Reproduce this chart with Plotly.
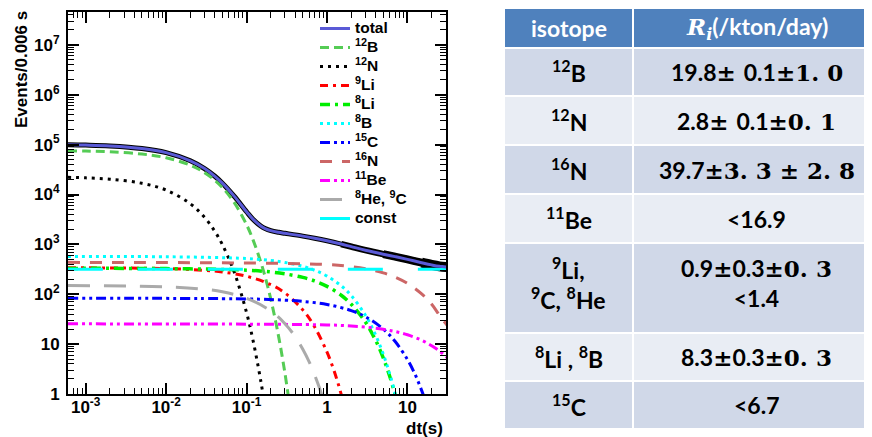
import plotly.graph_objects as go

# ---------------- data ----------------
t_total = [6e-4, 1e-3, 2e-3, 5e-3, 0.01, 0.02, 0.03, 0.04, 0.05, 0.07, 0.1, 0.12, 0.15, 0.17, 0.2, 0.25,
           0.3, 0.5, 0.7, 1, 1.5, 2, 3, 5, 7, 10, 15, 20, 25, 31]
y_total = [99800, 98250, 94450, 83840, 69120, 47430, 33150, 23460, 16900, 9290, 4515, 3206, 2340, 2081, 1887, 1745,
           1668, 1466, 1329, 1182, 1015, 902, 765, 636, 568, 501, 430, 388, 363, 349]

t_12B = [6e-4, 1e-3, 2e-3, 5e-3, 0.01, 0.02, 0.03, 0.04, 0.05, 0.07, 0.1, 0.12, 0.15, 0.17, 0.2, 0.25, 0.3, 0.35]
y_12B = [75400, 74400, 71900, 64800, 54600, 38700, 27500, 19470, 13800, 6950, 2480, 1245, 444, 224, 80, 14.3, 2.6, 0.46]

t_12N = [6e-4, 1e-3, 2e-3, 5e-3, 0.01, 0.02, 0.03, 0.04, 0.05, 0.07, 0.1, 0.12, 0.15, 0.17]
y_12N = [22150, 21600, 20300, 16800, 12300, 6540, 3490, 1860, 991, 282, 42.7, 12.1, 1.84, 0.52]

t_9Li = [6e-4, 0.01, 0.03, 0.05, 0.1, 0.2, 0.3, 0.5, 0.7, 1.0, 1.2, 1.4, 1.6]
y_9Li = [339, 327, 302, 280, 230, 156, 106, 48.6, 22.3, 6.9, 3.2, 1.46, 0.67]

t_8Li = [6e-4, 0.01, 0.1, 0.2, 0.3, 0.5, 0.7, 1, 1.5, 2, 3, 4, 5, 6, 7, 7.5]
y_8Li = [330, 327, 304, 280, 257, 218, 185, 144, 95.5, 63, 27.7, 12.1, 5.3, 2.3, 1.0, 0.67]

t_8B = [6e-4, 0.01, 0.1, 0.2, 0.3, 0.5, 0.7, 1, 1.5, 2, 3, 4, 5, 6, 7, 7.5]
y_8B = [570, 565, 521, 476, 435, 363, 303, 231, 148, 94, 38, 15.5, 6.3, 2.56, 1.04, 0.66]

t_15C = [6e-4, 0.1, 0.3, 0.5, 1, 2, 3, 5, 7, 10, 12, 14, 16, 17]
y_15C = [83, 80.7, 76.2, 72, 62.5, 47.1, 35.5, 20.1, 11.4, 4.9, 2.8, 1.57, 0.89, 0.67]

t_16N = [6e-4, 1, 2, 3, 5, 7, 10, 15, 20, 25, 31]
y_16N = [436, 396, 359, 326, 268, 221, 165, 102, 63, 38, 24]

t_11Be = [6e-4, 1, 2, 3, 5, 7, 10, 15, 20, 25, 31]
y_11Be = [25.5, 24.3, 23.1, 21.9, 19.8, 17.9, 15.4, 12, 9.3, 7.3, 5.4]

t_8He9C = [6e-4, 0.01, 0.03, 0.05, 0.1, 0.2, 0.3, 0.4, 0.5, 0.6, 0.7, 0.8, 0.9]
y_8He9C = [149.5, 141, 126, 112, 83, 46.3, 25.7, 14.3, 7.9, 4.4, 2.44, 1.36, 0.75]

t_const = [6e-4, 31]
y_const = [316, 316]

x_tickvals = [1e-3, 1e-2, 1e-1, 1, 10]
x_ticktext = ["10<sup>-3</sup>", "10<sup>-2</sup>", "10<sup>-1</sup>", "1", "10"]
y_tickvals = [1, 10, 1e2, 1e3, 1e4, 1e5, 1e6, 1e7]
y_ticktext = ["1", "10", "10<sup>2</sup>", "10<sup>3</sup>", "10<sup>4</sup>",
              "10<sup>5</sup>", "10<sup>6</sup>", "10<sup>7</sup>"]

table_header = ["isotope", "(/kton/day)"]
table_isotopes = ["<sup>12</sup>B", "<sup>12</sup>N", "<sup>16</sup>N", "<sup>11</sup>Be",
                  "<sup>9</sup>Li,<br><sup>9</sup>C, <sup>8</sup>He", "<sup>8</sup>Li , <sup>8</sup>B",
                  "<sup>15</sup>C"]
# (plain, math, plain, math) parts of each rate
table_rates = [("19.8", "± ", "0.1", "±1. 0"), ("2.8", "± ", "0.1", "±0. 1"), ("39.7", "±3. 3 ± 2. 8", "", ""),
               ("&lt;16.9", "", "", ""), ("0.9", "±", "0.3", "±0. 3<br>&lt;1.4"), ("8.3", "±", "0.3", "±0. 3"),
               ("&lt;6.7", "", "", "")]

# ---------------- figure ----------------
W, H = 872, 437
FONT = "Liberation Sans"
fig = go.Figure()

# data points (black) under the total fit; the band widens where statistics get poorer
for tmin, wd in [(0, 5), (1.5, 6.5), (5, 8), (15, 10)]:
    sel = [i for i, t in enumerate(t_total) if t >= tmin]
    fig.add_trace(go.Scatter(x=[t_total[i] for i in sel], y=[y_total[i] for i in sel], mode="lines",
                             line=dict(color="black", width=wd, shape="spline"), showlegend=False,
                             hoverinfo="skip"))
fig.add_trace(go.Scatter(x=[t_total[-1]], y=[y_total[-1]], mode="markers",
                         marker=dict(color="black", size=11), showlegend=False, hoverinfo="skip", cliponaxis=False))

curves = [
    ("<sup>12</sup>B", t_12B, y_12B, "#55CC55", 3, "9px,5px"),
    ("<sup>12</sup>N", t_12N, y_12N, "black", 3, "3px,5px"),
    ("<sup>9</sup>Li", t_9Li, y_9Li, "#FF0000", 3, "8px,5px,3px,5px"),
    ("<sup>8</sup>Li", t_8Li, y_8Li, "#00EE00", 3.5, "10px,5px,3px,5px"),
    ("<sup>8</sup>B", t_8B, y_8B, "#00FFFF", 3, "3px,4px"),
    ("<sup>15</sup>C", t_15C, y_15C, "#0000FF", 3, "10px,4px,3px,4px,3px,4px"),
    ("<sup>16</sup>N", t_16N, y_16N, "#CC6666", 3, "12px,10px"),
    ("<sup>11</sup>Be", t_11Be, y_11Be, "#FF00FF", 3, "10px,4px,3px,4px,3px,4px"),
    ("<sup>8</sup>He, <sup>9</sup>C", t_8He9C, y_8He9C, "#AAAAAA", 3, "22px,14px"),
    ("const", t_const, y_const, "#00FFFF", 3, "35px,35px"),
]
LEG = "<span style='font-size:15.5px'><b>%s</b></span>"
for k, (name, tx, ty, col, w, dash) in enumerate(curves):
    fig.add_trace(go.Scatter(x=tx, y=ty, mode="lines", name=LEG % name, legendrank=k + 2,
                             line=dict(color=col, width=w, dash=dash, shape="spline")))

fig.add_trace(go.Scatter(x=t_total, y=y_total, mode="lines", name=LEG % "total", legendrank=1,
                         line=dict(color="#5A5AD6", width=3, shape="spline")))

axis_common = dict(type="log", showgrid=False, zeroline=False, showline=True, linecolor="black", linewidth=2,
                   mirror="ticks", ticks="inside", ticklen=11, tickwidth=1.5, tickcolor="black",
                   tickfont=dict(family=FONT, size=17, color="black"),
                   minor=dict(ticks="inside", ticklen=6, tickwidth=1.2, tickcolor="black", dtick="D1", showgrid=False),
                   automargin=False)

fig.update_xaxes(**axis_common, range=[-3.22, 1.479], domain=[60 / W, 438 / W],
                 tickvals=x_tickvals, ticktext=["<b>%s</b>" % s for s in x_ticktext], ticklabelstandoff=-3)
fig.update_yaxes(**axis_common, range=[0, 7.66], domain=[1 - 386 / H, 1 - 4 / H],
                 tickvals=y_tickvals, ticktext=["<b>%s</b>" % s for s in y_ticktext], ticklabelstandoff=3)

annotations = [
    dict(text="<b>Events/0.006 s</b>", x=14 / W, y=1 - 62 / H, xref="paper", yref="paper", textangle=-90,
         showarrow=False, xanchor="center", yanchor="middle",
         font=dict(family=FONT, size=17, color="black")),
    dict(text="<b>dt(s)</b>", x=437 / W, y=1 - 420 / H, xref="paper", yref="paper", showarrow=False,
         xanchor="right", yanchor="middle", font=dict(family=FONT, size=17, color="black")),
]

# ---------------- table ----------------
shapes = []
col_edges = [496, 625, 872]
row_heights = [40, 48, 49, 49, 49, 90, 48, 48]
row_fill = ["#4F81BD", "#D0D8E8", "#E9EDF4", "#D0D8E8", "#E9EDF4", "#D0D8E8", "#E9EDF4", "#D0D8E8"]
TFONT = "Lato"
MATH = "<span style='font-family:DejaVu Serif'><b>%s</b></span>"
y0 = 0
for r, h in enumerate(row_heights):
    for c in range(2):
        shapes.append(dict(type="rect", xref="paper", yref="paper",
                           x0=col_edges[c] / W, x1=col_edges[c + 1] / W,
                           y0=1 - y0 / H, y1=1 - (y0 + h) / H,
                           fillcolor=row_fill[r], line=dict(color="white", width=2), layer="below"))
        if r == 0:
            if c == 0:
                txt = "<b>%s</b>" % table_header[0]
            else:
                txt = ("<span style='font-family:DejaVu Serif'><b><i>R</i><sub><i>i</i></sub></b></span>"
                       "<b>%s</b>" % table_header[1])
            colr = "white"
        elif c == 0:
            txt = "<b>%s</b>" % table_isotopes[r - 1]
            colr = "black"
        else:
            a, b, cc, d = table_rates[r - 1]
            txt = "<b>%s</b>" % a
            if b:
                txt += MATH % b
            if cc:
                txt += "<b>%s</b>" % cc
            if d:
                if "<br>" in d:
                    d1, d2 = d.split("<br>")
                    txt += MATH % d1 + "<br><b>%s</b>" % d2
                else:
                    txt += MATH % d
            colr = "black"
        yc = y0 + h / 2 - (5 if "<br>" in txt else 0)
        annotations.append(dict(text=txt,
                                x=(col_edges[c] + col_edges[c + 1]) / 2 / W, y=1 - yc / H,
                                xref="paper", yref="paper", showarrow=False, xanchor="center", yanchor="middle",
                                font=dict(family=TFONT, size=23, color=colr)))
    y0 += h

fig.update_layout(
    width=W, height=H, margin=dict(l=0, r=0, t=0, b=0),
    paper_bgcolor="white", plot_bgcolor="white",
    showlegend=True,
    legend=dict(x=307 / W, y=1 - 6 / H, xanchor="left", yanchor="top", bgcolor="rgba(0,0,0,0)",
                font=dict(family=FONT, size=12.3, color="black"), tracegroupgap=0,
                itemwidth=30),
    annotations=annotations, shapes=shapes,
)

fig.write_html("out.html")
